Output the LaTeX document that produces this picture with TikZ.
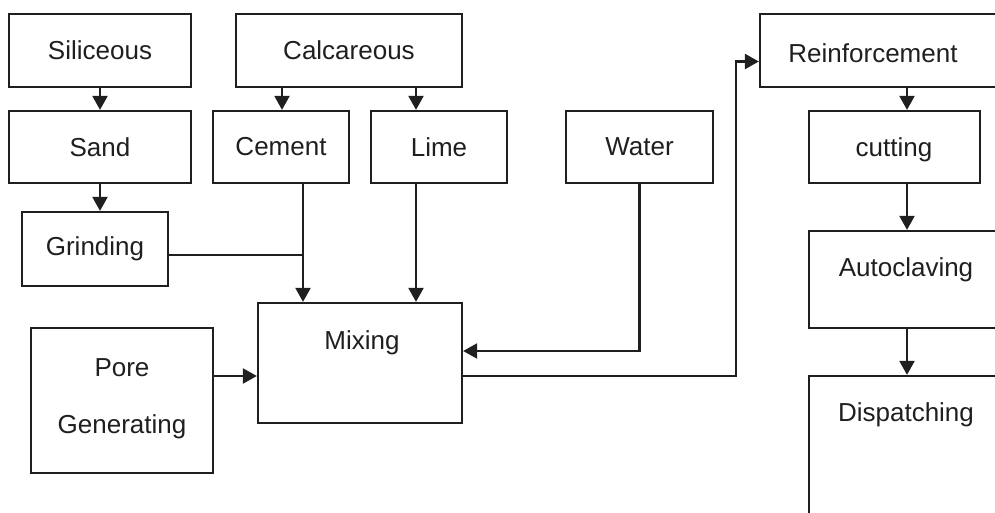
\documentclass[tikz,border=0pt]{standalone}
\usepackage{fontspec}
\setmainfont{Liberation Sans}
\usetikzlibrary{arrows.meta,calc}
\begin{document}
\begin{tikzpicture}[x=1pt,y=-1pt,
  box/.style={draw=ink,line width=2.3pt,rectangle,inner sep=0pt,font=\fontsize{26}{31}\selectfont,text=ink},
  lbl/.style={inner sep=0pt,font=\fontsize{26}{31}\selectfont,text=ink},
  conn/.style={draw=ink,line width=2.3pt},
  arr/.style={conn,-{Triangle[length=14pt,width=15pt]}}]
\colorlet{ink}{black!88}
\useasboundingbox (0,0) rectangle (995,513);
\clip (0,0) rectangle (995,513);
% boxes
\node[box,minimum width=182pt,minimum height=73pt] (sil) at (100,50.5) {Siliceous};
\node[box,minimum width=226pt,minimum height=73pt] (cal) at (349,50.5) {Calcareous};
\node[box,minimum width=182pt,minimum height=72pt] (sand) at (100,147) {Sand};
\node[box,minimum width=136pt,minimum height=72pt] (cem) at (281,147) {Cement};
\node[box,minimum width=136pt,minimum height=72pt] (lime) at (439,147) {Lime};
\node[box,minimum width=147pt,minimum height=72pt] (water) at (639.5,147) {Water};
\node[box,minimum width=146pt,minimum height=74pt] (grind) at (95,249) {Grinding};
\node[box,minimum width=204pt,minimum height=120pt] (mix) at (360,363) {};
\node[box,minimum width=182pt,minimum height=145pt] (pore) at (122,400.5) {};
\node[box,minimum width=250pt,minimum height=73pt] (reinf) at (885,50.5) {};
\node[box,minimum width=171pt,minimum height=72pt] (cut) at (894.5,147) {};
\node[box,minimum width=220pt,minimum height=97pt] (auto) at (919,279.5) {};
\node[box,minimum width=220pt,minimum height=160pt] (disp) at (919,456) {};
% texts
\node[lbl] (tmix) at (362,343) {Mixing};
\node[lbl] (tpore) at (122,368) {Pore};
\node[lbl] (tgen) at (122,427) {Generating};
\node[lbl] (treinf) at (873,53) {Reinforcement};
\node[lbl] (tcut) at (894,150) {cutting};
\node[lbl] (tauto) at (906,270) {Autoclaving};
\node[lbl] (tdisp) at (906,415) {Dispatching};
% helper coordinates
\coordinate (colx) at (907,0);
\coordinate (limex) at (416,0);
\coordinate (cemx) at (303,0);
\coordinate (calx) at (282,0);
\coordinate (mixin) at ([yshift=-13pt]mix.west);
\coordinate (mixout) at ([yshift=-13pt]mix.east);
\coordinate (waterin) at ([yshift=12pt]mix.east);
\coordinate (bend) at (736,376);
\coordinate (reinfin) at ([yshift=-11pt]reinf.west);
\coordinate (grindout) at ([yshift=-6pt]grind.east);
% connectors
\draw[arr] (sil) -- (sand);
\draw[arr] (sand.south) -- (sand.south |- grind.north);
\draw[arr] (cal.south -| calx) -- (cem.north -| calx);
\draw[arr] (cal.south -| limex) -- (lime.north -| limex);
\draw[arr] (cem.south -| cemx) -- (mix.north -| cemx);
\draw[conn] (grindout) -- (grindout -| cemx);
\draw[arr] (lime.south -| limex) -- (mix.north -| limex);
\draw[arr] (water.south) |- (waterin);
\draw[arr] (mixin -| pore.east) -- (mixin);
\draw[arr] (mixout) -- (bend) |- (reinfin);
\draw[arr] (reinf.south -| colx) -- (cut.north -| colx);
\draw[arr] (cut.south -| colx) -- (auto.north -| colx);
\draw[arr] (auto.south -| colx) -- (disp.north -| colx);
\end{tikzpicture}
\end{document}
